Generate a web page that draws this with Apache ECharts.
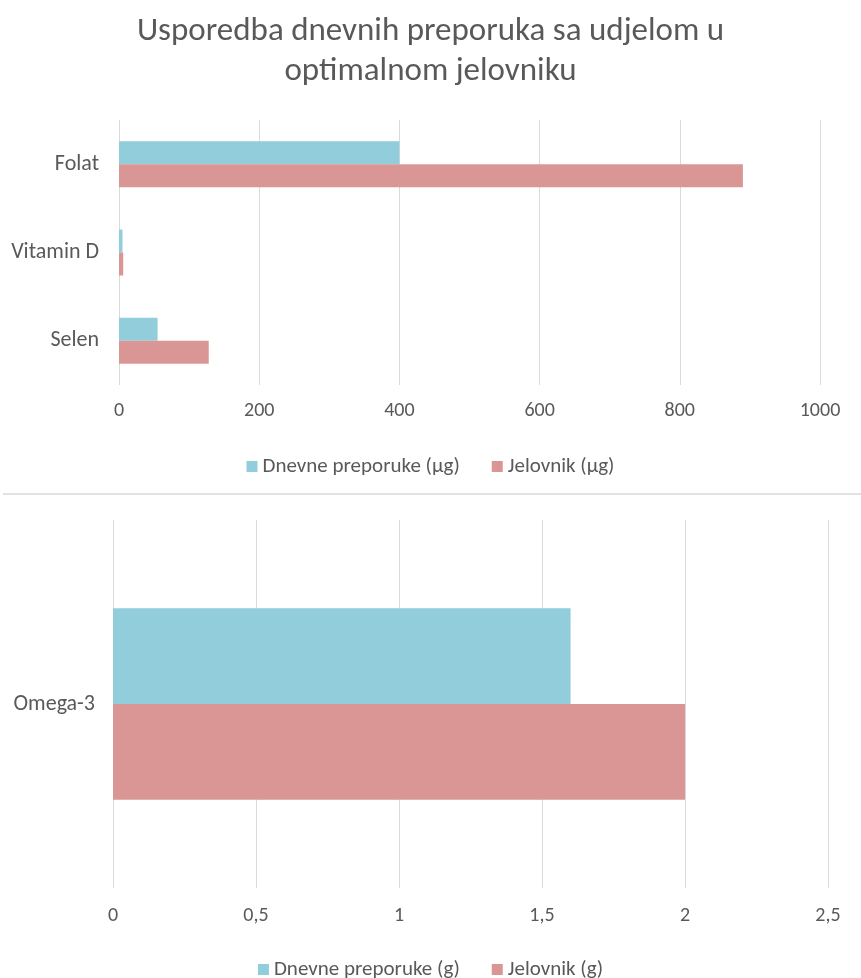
<!DOCTYPE html>
<html><head><meta charset="utf-8">
<script src="https://cdn.jsdelivr.net/npm/echarts@6/dist/echarts.min.js"></script>
<style>html,body{margin:0;padding:0;background:#fff}#c{width:861px;height:978px}</style>
</head><body><div id="c"></div>
<script>
const titleText = 'Usporedba dnevnih preporuka sa udjelom u\noptimalnom jelovniku';
const catsTop = ['Folat', 'Vitamin D', 'Selen'];
const recTop = [400, 5, 55];
const menuTop = [890, 6, 128];
const ticksTop = [0, 200, 400, 600, 800, 1000];
const catsBottom = ['Omega-3'];
const recBottom = [1.6];
const menuBottom = [2.0];
const namesTop = ['Dnevne preporuke (µg)', 'Jelovnik (µg)'];
const namesBottom = ['Dnevne preporuke (g)', 'Jelovnik (g)'];

const BLUE = '#92CDDC', RED = '#D99694', TXT = '#595959', GRID = '#D9D9D9';
const FONT = 'Carlito, Lato';
const chart = echarts.init(document.getElementById('c'));
const axisX = (idx, max, interval, fmt, margin) => ({
  type: 'value', gridIndex: idx, min: 0, max: max, interval: interval,
  axisLine: {show: false}, axisTick: {show: false},
  splitLine: {show: true, lineStyle: {color: GRID, width: 1}},
  axisLabel: {color: TXT, fontFamily: FONT, fontSize: 20, margin: margin, formatter: fmt}
});
const axisY = (idx, cats, margin) => ({
  type: 'category', gridIndex: idx, data: cats, inverse: true,
  axisLine: {show: false}, axisTick: {show: false},
  axisLabel: {color: TXT, fontFamily: FONT, fontSize: 22, margin: margin}
});
const legendStyle = {itemWidth: 11, itemHeight: 11, itemGap: 32, icon: 'rect',
  textStyle: {color: TXT, fontFamily: FONT, fontSize: 21}};
chart.setOption({
  animation: false,
  backgroundColor: '#fff',
  title: {text: titleText, left: 'center', top: 7,
    textStyle: {color: TXT, fontFamily: FONT, fontSize: 33, fontWeight: 'normal', lineHeight: 40}},
  legend: [
    Object.assign({data: namesTop, top: 451, left: 'center'}, legendStyle),
    Object.assign({data: namesBottom, top: 954, left: 'center'}, legendStyle)
  ],
  grid: [
    {left: 119, right: 41, top: 120, height: 265},
    {left: 113, right: 33, top: 520, height: 368}
  ],
  xAxis: [
    axisX(0, 1000, 200, v => String(v), 16),
    axisX(1, 2.5, 0.5, v => String(v).replace('.', ','), 18)
  ],
  yAxis: [axisY(0, catsTop, 20), axisY(1, catsBottom, 18)],
  graphic: [{type: 'line', shape: {x1: 3, y1: 494, x2: 861, y2: 494},
    style: {stroke: '#D9D9D9', lineWidth: 1.5}}],
  series: [
    {name: namesTop[0], type: 'bar', xAxisIndex: 0, yAxisIndex: 0, data: recTop,
      itemStyle: {color: BLUE}, barGap: '0%', barCategoryGap: '48%'},
    {name: namesTop[1], type: 'bar', xAxisIndex: 0, yAxisIndex: 0, data: menuTop,
      itemStyle: {color: RED}, barGap: '0%', barCategoryGap: '48%'},
    {name: namesBottom[0], type: 'bar', xAxisIndex: 1, yAxisIndex: 1, data: recBottom,
      itemStyle: {color: BLUE}, barGap: '0%', barCategoryGap: '48%'},
    {name: namesBottom[1], type: 'bar', xAxisIndex: 1, yAxisIndex: 1, data: menuBottom,
      itemStyle: {color: RED}, barGap: '0%', barCategoryGap: '48%'}
  ]
});
</script></body></html>
